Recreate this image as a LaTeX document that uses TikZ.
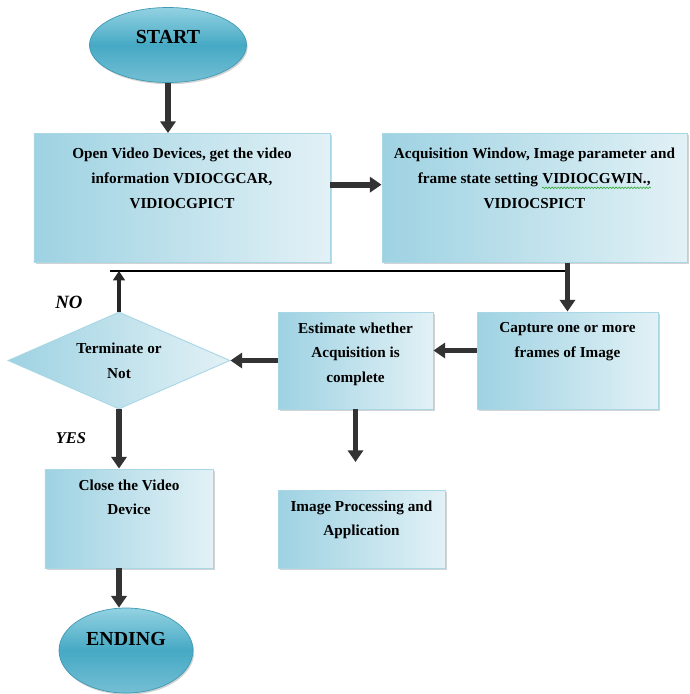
\documentclass[tikz,border=0pt]{standalone}
\usepackage{fontspec}
\setmainfont{Liberation Serif}
\usetikzlibrary{positioning,arrows.meta,shapes.geometric,shadows,decorations.pathmorphing}

\definecolor{boxdark}{HTML}{9ED2E2}
\definecolor{boxlight}{HTML}{E2F1F6}
\definecolor{boxedge}{HTML}{A9D7E5}
\definecolor{ovaltop}{HTML}{93D2E2}
\definecolor{ovalmid}{HTML}{46A9C4}
\definecolor{ovalbot}{HTML}{74BFD4}
\definecolor{ovaledge}{HTML}{3F9AB5}
\definecolor{squiggle}{HTML}{2EA82E}

% green spell-check wave under a word
\newcommand{\spellmark}[1]{\tikz[baseline=(w.base),x=1pt,y=1pt]{\node[inner sep=0pt] (w) {#1};
  \draw[squiggle,line width=0.5pt,decorate,decoration={snake,amplitude=0.7pt,segment length=2.6pt}]
    ([yshift=-1.5pt]w.south west) -- ([yshift=-1.5pt]w.south east);}}

\begin{document}
\begin{tikzpicture}[
    x=0.3mm, y=-0.3mm,
    font=\fontsize{13}{21}\selectfont\bfseries,
    term/.style={ellipse,draw=ovaledge,line width=0.6pt,top color=ovaltop,bottom color=ovalbot,middle color=ovalmid,
                 drop shadow={shadow xshift=1pt,shadow yshift=-1.5pt,opacity=0.35},
                 font=\fontsize{17}{20}\selectfont\bfseries,inner sep=0pt},
    proc/.style={rectangle,draw=boxedge,line width=0.8pt,left color=boxdark,right color=boxlight,
                 drop shadow={shadow xshift=1.5pt,shadow yshift=-1.5pt,opacity=0.35},inner sep=0pt},
    decide/.style={diamond,aspect=2.3,draw=boxedge,line width=0.8pt,left color=boxdark,right color=boxlight,
                 inner sep=0pt,align=center},
    txt/.style={align=center,inner sep=0pt},
    yn/.style={font=\fontsize{16}{18}\selectfont\bfseries\itshape},
    flow/.style={line width=5pt,black!80,-{Triangle[length=10pt,width=13pt]}},
    back/.style={line width=3pt,black!85,-{Triangle[length=8pt,width=10pt]}}
]
\useasboundingbox (0,0) rectangle (689,694);

% terminals
\node[term,minimum width=47.1mm,minimum height=22.5mm,text depth=4.8mm] (start) at (168,45) {START};
\node[term,minimum width=40.2mm,minimum height=25.5mm,text depth=7.2mm] (ending) at (126,650.5) {ENDING};

% top row
\node[proc,minimum width=88.8mm,minimum height=38.7mm] (open) at (182,198) {};
\node[txt,below=4.5mm of open.north] (opentxt)
  {Open Video Devices, get the video\\information VDIOCGCAR,\\VIDIOCGPICT};
\node[proc,minimum width=91.5mm,minimum height=38.7mm] (acq) at (534.5,198) {};
\node[txt,below=4.5mm of acq.north] (acqtxt)
  {Acquisition Window, Image parameter and\\frame state setting \spellmark{VIDIOCGWIN.,}\\VIDIOCSPICT};

% middle row
\node[proc,minimum width=54.3mm,minimum height=29.1mm] (capture) at (567.5,360.5) {};
\node[txt,below=3.3mm of capture.north] (capturetxt) {Capture one or more\\frames of Image};
\node[proc,minimum width=46.5mm,minimum height=29.1mm] (estimate) at (355.5,360.5) {};
\node[txt,below=3.3mm of estimate.north] (estimatetxt) {Estimate whether\\Acquisition is\\complete};
\node[decide,minimum width=66.6mm,minimum height=29.1mm] (decide) at (119,360.5) {Terminate or\\Not};

% bottom row
\node[proc,minimum width=50.4mm,minimum height=29.7mm] (close) at (129,518.5) {};
\node[txt,below=3.3mm of close.north] (closetxt) {Close the Video\\Device};
\node[proc,minimum width=50.1mm,minimum height=23.4mm] (imgproc) at (361.5,529) {};
\node[txt,below=3.3mm of imgproc.north] (imgproctxt) {Image Processing and\\Application};

% branch labels
\node[yn] (no) at (69,302) {NO};
\node[yn,font=\fontsize{14}{16}\selectfont\bfseries\itshape] (yes) at (71,438) {YES};

% loop line
\coordinate (loopL) at (110,271);
\coordinate (loopR) at (567,271);
\coordinate (procgap) at (355.5,462);
\draw[line width=1.2pt] (loopL) -- (loopR);

% connectors
\draw[flow] (start.south) -- (start.south |- open.north);
\draw[flow] ([yshift=4mm]open.east) -- ([yshift=4mm]acq.west);
\draw[flow] (acq.south -| capture.north) -- (capture.north);
\draw[flow] ([yshift=3mm]capture.west) -- ([yshift=3mm]estimate.east);
\draw[flow] (estimate.west) -- (decide.east);
\draw[flow] (estimate.south) -- (procgap);
\draw[back] (decide.north) -- (decide.north |- loopL);
\draw[flow] (decide.south) -- (decide.south |- close.north);
\draw[flow] (close.south -| decide.south) -- (ending.north -| decide.south);

\end{tikzpicture}
\end{document}
